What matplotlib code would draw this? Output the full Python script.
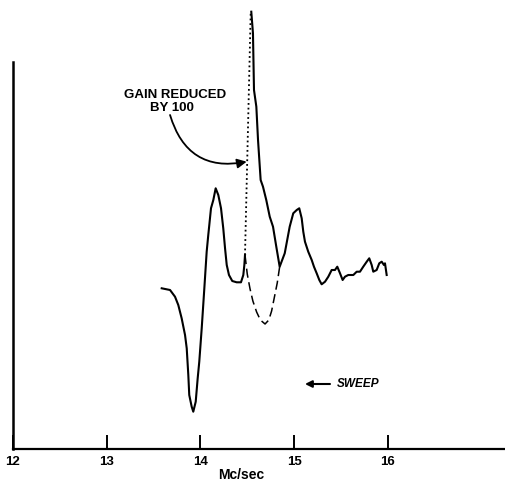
import matplotlib
matplotlib.use("Agg")
from matplotlib import pyplot as plt

# frequency (Mc/sec) and amplitude (arbitrary units)
low_freq = [13.587, 13.676, 13.729, 13.764, 13.800, 13.836, 13.854, 13.871, 13.881,
            13.907, 13.924, 13.950, 13.971, 13.988, 14.014, 14.042, 14.067, 14.084,
            14.095, 14.113, 14.138, 14.163, 14.191, 14.220, 14.244, 14.263, 14.281,
            14.305, 14.340, 14.387, 14.433, 14.458, 14.469, 14.476]
low_amp = [160.7, 159, 152.3, 144, 130.7, 114, 100.7, 74, 54,
           42.3, 37.3, 47.3, 70.7, 87.3, 120.7, 160.7, 197.3, 214,
           224, 240.7, 249, 260.7, 254, 240.7, 220.7, 200.7, 184,
           174, 168, 166.7, 166.7, 174, 184, 194]

# gain reduced by 100 (dotted rise to the main peak)
reduced_freq = [14.476, 14.537]
reduced_amp = [194, 437]

high_freq = [14.543, 14.561, 14.572, 14.597, 14.615, 14.643, 14.668, 14.703, 14.740,
             14.775, 14.810, 14.846, 14.900, 14.953, 14.991, 15.028, 15.055, 15.081,
             15.098, 15.116, 15.151, 15.188, 15.212, 15.241, 15.269, 15.294, 15.330,
             15.365, 15.401, 15.436, 15.461, 15.490, 15.518, 15.543, 15.578, 15.632,
             15.668, 15.703, 15.738, 15.775, 15.802, 15.828, 15.845, 15.881, 15.909,
             15.935, 15.959, 15.970, 15.988]
high_amp = [437.3, 415.7, 359, 342.3, 309, 269, 262.3, 249, 232.3,
            222.3, 202.3, 182.3, 195.7, 222.3, 235.7, 239, 240.7, 230.7,
            217.3, 207.3, 197.3, 189, 182.3, 175.7, 169, 164.7, 167.3,
            172.3, 179, 179, 182.3, 175.7, 169, 172.3, 174, 174,
            177.3, 177.3, 182.3, 187.3, 190.7, 184, 177.3, 179, 185.7,
            187.3, 184, 185.7, 174]

# dashed curve under the peak
dashed_freq = [14.476, 14.50, 14.53, 14.56, 14.60, 14.64, 14.69, 14.73, 14.76,
               14.79, 14.82, 14.846]
dashed_amp = [194, 175, 160, 148, 137, 129, 125, 129, 138, 152, 166, 182.3]

tick_pos = [12, 13, 14, 15, 16]
tick_labels = ["12", "13", "14", "15", "16"]

plt.rcParams["font.family"] = ["Liberation Sans", "DejaVu Sans"]

fig = plt.figure(figsize=(5.06, 4.91), dpi=100)
ax = fig.add_axes([13 / 506, 42 / 491, 493 / 506, 449 / 491])

ax.plot(low_freq, low_amp, color="black", lw=1.5)
ax.plot(high_freq, high_amp, color="black", lw=1.5, clip_on=False)
ax.plot(reduced_freq, reduced_amp, color="black", lw=1.3, ls=(0, (1, 1.6)))
ax.plot(dashed_freq, dashed_amp, color="black", lw=1.1, ls=(0, (6, 3)))

ax.set_xlim(12, 12 + 493 / 93.7)
ax.set_ylim(0, 449)

for side in ["top", "right"]:
    ax.spines[side].set_visible(False)
ax.spines["left"].set_bounds(0, 387)
ax.spines["left"].set_linewidth(1.8)
ax.spines["bottom"].set_linewidth(1.6)

ax.set_yticks([])
ax.set_xticks(tick_pos)
ax.set_xticklabels(tick_labels, fontsize=9.5, fontweight="bold")
ax.tick_params(axis="x", direction="in", length=10, width=1.4, pad=5)

ax.set_xlabel("Mc/sec", fontsize=10, fontweight="bold")
ax.xaxis.label.set_va("center")
ax.xaxis.set_label_coords((241 - 13) / 493, (449 - 475) / 449)

ax.text(13.729, 354, "GAIN REDUCED", ha="center", va="center",
        fontsize=9.5, fontweight="bold")
ax.text(13.692, 341, "BY 100", ha="center", va="center",
        fontsize=9.5, fontweight="bold")
ax.annotate("", xy=(14.494, 287.3), xytext=(13.676, 334),
            arrowprops=dict(arrowstyle="-|>", color="black", lw=1.3,
                            mutation_scale=14, shrinkA=0, shrinkB=0,
                            connectionstyle="arc3,rad=0.45"))

ax.annotate("", xy=(15.116, 65), xytext=(15.383, 65),
            arrowprops=dict(arrowstyle="-|>", color="black", lw=1.5,
                            mutation_scale=10, shrinkA=0, shrinkB=0))
ax.text(15.458, 65, "SWEEP", ha="left", va="center", fontsize=8.5,
        fontweight="bold", style="italic")

fig.savefig("out.png", dpi=100)
